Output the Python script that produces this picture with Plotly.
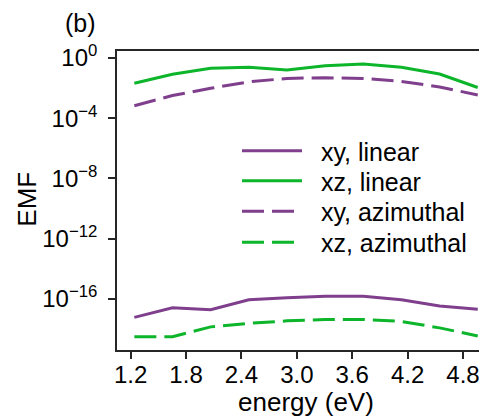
import plotly.graph_objects as go

# energies (eV)
energy = [1.24, 1.653, 2.067, 2.48, 2.893, 3.307, 3.72, 4.133, 4.547, 4.96]

# EMF values
xy_linear = [6.0e-18, 2.6e-17, 1.9e-17, 8.9e-17, 1.2e-16, 1.5e-16, 1.5e-16, 8.9e-17, 3.4e-17, 2.1e-17]
xz_linear = [2.1e-2, 8.3e-2, 0.21, 0.24, 0.16, 0.31, 0.40, 0.24, 8.7e-2, 1.1e-2]
xy_azimuthal = [6.8e-4, 3.2e-3, 9.8e-3, 2.6e-2, 4.4e-2, 4.9e-2, 4.4e-2, 2.8e-2, 1.2e-2, 3.5e-3]
xz_azimuthal = [3.1e-19, 3.1e-19, 1.4e-18, 2.4e-18, 3.5e-18, 4.3e-18, 4.4e-18, 3.2e-18, 1.2e-18, 3.5e-19]

series_names = ["xy, linear", "xz, linear", "xy, azimuthal", "xz, azimuthal"]

x_tickvals = [1.2, 1.8, 2.4, 3.0, 3.6, 4.2, 4.8]
x_ticktext = ["1.2", "1.8", "2.4", "3.0", "3.6", "4.2", "4.8"]
y_tickvals = [1e0, 1e-4, 1e-8, 1e-12, 1e-16]
y_ticktext = ["10<sup>0</sup>", "10<sup>\u22124</sup>", "10<sup>\u22128</sup>",
              "10<sup>\u221212</sup>", "10<sup>\u221216</sup>"]

PURPLE = "#7f3f8c"
GREEN = "#0db52b"
FONT = "Liberation Sans, Arial, sans-serif"
DASH = "22px,8px"
GAP = "\u00a0\u00a0"  # spacing between legend swatch and label

# page geometry (the page body adds an 8px offset)
L, T, W, H = 117, 51, 378, 299


def px_x(px):
    return (px - L) / W


def px_y(py):
    return (T + H - py) / H


fig = go.Figure()
fig.add_trace(go.Scatter(x=energy, y=xy_linear, mode="lines", name=GAP + series_names[0],
                         line=dict(color=PURPLE, width=3), legend="legend"))
fig.add_trace(go.Scatter(x=energy, y=xz_linear, mode="lines", name=GAP + series_names[1],
                         line=dict(color=GREEN, width=3), legend="legend2"))
fig.add_trace(go.Scatter(x=energy, y=xy_azimuthal, mode="lines", name=GAP + series_names[2],
                         line=dict(color=PURPLE, width=3, dash=DASH), legend="legend3"))
fig.add_trace(go.Scatter(x=energy, y=xz_azimuthal, mode="lines", name=GAP + series_names[3],
                         line=dict(color=GREEN, width=3, dash=DASH), legend="legend4"))

axis_common = dict(showline=True, linecolor="#262626", linewidth=1.6,
                   ticks="outside", ticklen=7, tickwidth=1.5, tickcolor="#262626",
                   showgrid=False, zeroline=False,
                   tickfont=dict(family=FONT, size=24, color="black"))

fig.update_xaxes(range=[1.052, 5.147], tickmode="array", tickvals=x_tickvals,
                 ticktext=x_ticktext, mirror=True, ticklabelstandoff=-5, **axis_common)
fig.update_yaxes(type="log", range=[-19.39, 0.465], tickmode="array",
                 tickvals=y_tickvals, ticktext=y_ticktext, mirror=False,
                 ticklabelstandoff=6, **axis_common)


def leg(row_y):
    return dict(x=px_x(237), y=px_y(row_y), xanchor="left", yanchor="middle",
                bgcolor="rgba(0,0,0,0)", borderwidth=0, itemwidth=60,
                font=dict(family=FONT, size=25, color="black"))


fig.update_layout(
    width=487, height=418,
    margin=dict(l=109, r=0, t=43, b=76),
    plot_bgcolor="white", paper_bgcolor="white",
    font=dict(family=FONT, color="black"),
    showlegend=True,
    legend=leg(151), legend2=leg(181), legend3=leg(211.5), legend4=leg(242.5),
    annotations=[
        dict(text="EMF", xref="paper", yref="paper", x=px_x(26.7), y=px_y(199),
             textangle=-90, showarrow=False, xanchor="center", yanchor="middle",
             font=dict(family=FONT, size=26, color="black")),
        dict(text="energy (eV)", xref="paper", yref="paper", x=px_x(306.3),
             y=px_y(402), showarrow=False, xanchor="center", yanchor="middle",
             font=dict(family=FONT, size=26, color="black")),
        dict(text="(b)", xref="paper", yref="paper", x=px_x(80), y=px_y(23),
             showarrow=False, xanchor="center", yanchor="middle",
             font=dict(family=FONT, size=25, color="black")),
    ],
)

fig.write_html("out.html")
